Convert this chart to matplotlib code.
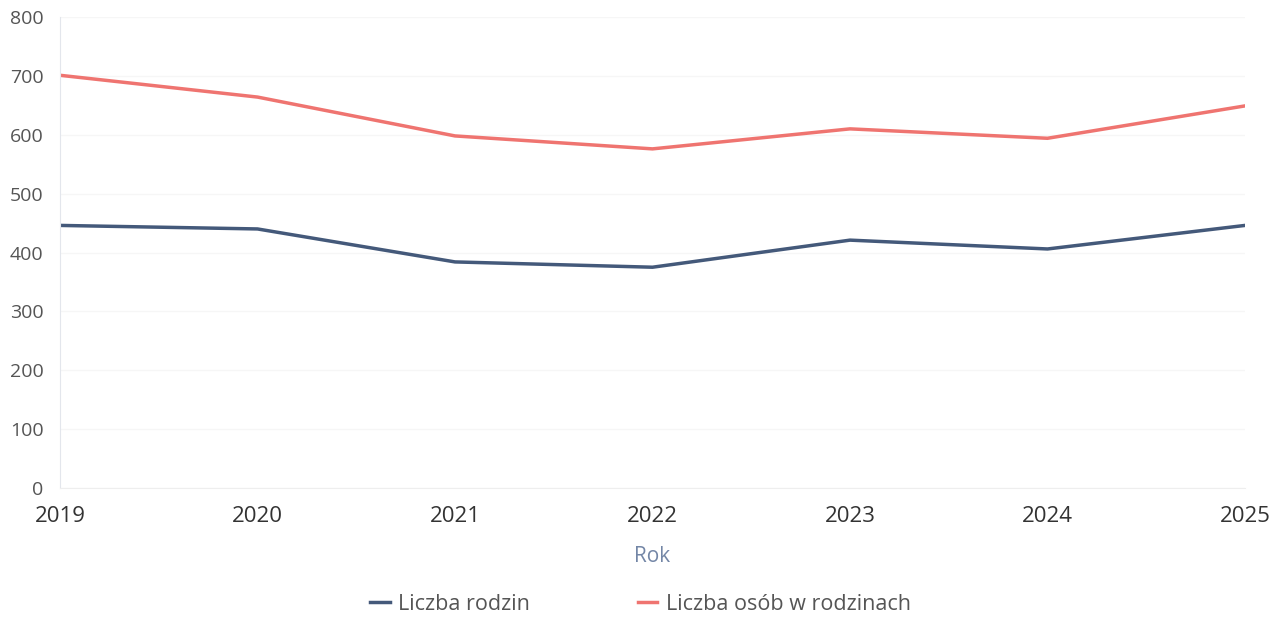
import matplotlib.pyplot as plt

plt.rcParams['font.family'] = ['Open Sans', 'DejaVu Sans']

years = [2019, 2020, 2021, 2022, 2023, 2024, 2025]
rodziny = [446, 440, 384, 375, 421, 406, 446]
osoby = [701, 664, 598, 576, 610, 594, 649]

fig = plt.figure(figsize=(12.79, 6.18), dpi=100)
ax = fig.add_axes([60 / 1279, 1 - 488 / 618, (1245 - 60) / 1279, (488 - 17) / 618])

ax.plot(years, rodziny, color='#44597a', lw=2.5, label='Liczba rodzin')
ax.plot(years, osoby, color='#ef7470', lw=2.5, label='Liczba osób w rodzinach')

ax.set_xlim(2019, 2025)
ax.set_ylim(0, 800)
ax.set_yticks(range(0, 801, 100))
ax.set_xticks(years)
ax.tick_params(axis='y', length=0, pad=12, labelsize=14, labelcolor='#555555')
ax.tick_params(axis='x', length=0, pad=13, labelsize=16, labelcolor='#333333')
ax.grid(axis='y', color='#f6f6f6', lw=1)
for s in ['top', 'right']:
    ax.spines[s].set_visible(False)
ax.spines['left'].set_color('#e3e6ec')
ax.spines['bottom'].set_color('#eeeeee')

ax.set_xlabel('Rok', fontsize=15, color='#7386a6', labelpad=14)

ax.legend(loc='upper center', bbox_to_anchor=(0.49, -0.183), ncol=2, frameon=False,
          fontsize=15.5, labelcolor='#555555', handlelength=0.9, columnspacing=5.0,
          handletextpad=0.4)

fig.savefig('out.png', dpi=100)
